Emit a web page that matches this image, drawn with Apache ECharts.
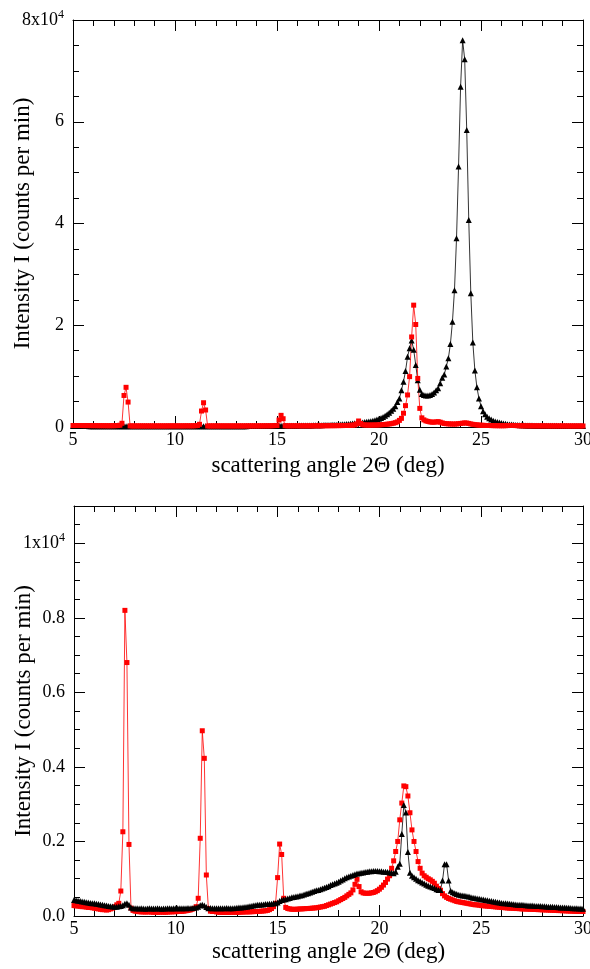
<!DOCTYPE html>
<html>
<head>
<meta charset="utf-8">
<script src="https://cdn.jsdelivr.net/npm/echarts@6/dist/echarts.min.js"></script>
<style>
  html, body { margin: 0; padding: 0; background: #fff; }
  #chart { width: 590px; height: 969px; }
</style>
</head>
<body>
<div id="chart"></div>
<script>
// Scan grid: 2Θ from 5.0° to 30.0° in 0.1° steps (251 points per scan)
const angleStart = 5.0;
const angleStep = 0.1;

// Upper panel, intensity in counts per min
const topBlack = [
  220,210,200,200,190,190,180,180,170,170,
  170,160,160,160,150,150,150,150,140,140,
  140,140,140,140,150,150,160,150,140,130,
  130,130,130,130,130,130,130,130,130,130,
  130,130,130,130,130,130,130,130,130,130,
  130,130,130,130,130,130,140,140,140,140,
  140,140,150,150,160,150,140,140,140,140,
  140,140,140,150,150,150,150,150,150,160,
  160,160,160,170,170,170,180,180,180,190,
  190,190,200,200,200,210,210,220,220,230,
  230,240,250,240,240,250,250,260,260,270,
  270,280,280,290,290,300,300,310,320,330,
  340,350,360,370,380,390,400,420,430,450,
  470,490,520,550,580,610,640,680,720,760,
  800,850,900,960,1020,1080,1150,1250,1350,1470,
  1600,1750,1950,2200,2500,2800,3200,3600,4100,4900,
  5600,7200,8900,11000,13800,15500,17000,15200,12200,9200,
  7300,6500,6300,6200,6200,6300,6500,6800,7200,7600,
  8600,9700,10300,11900,13500,16300,20700,26900,37100,51200,
  66900,76000,72300,58400,40700,26300,16600,11100,7800,5600,
  4100,3100,2500,2000,1700,1450,1250,1100,970,860,
  770,690,620,560,510,470,430,400,370,350,
  330,320,310,300,290,280,270,270,260,260,
  250,250,240,240,240,230,230,230,220,220,
  220,220,210,210,210,210,200,200,200,200,
  200
];
const topRed = [
  300,300,290,290,290,280,280,280,280,270,
  270,270,260,260,260,260,250,250,250,260,
  260,270,290,350,730,6200,7800,4900,220,210,
  210,210,210,210,210,210,210,210,210,210,
  210,210,210,210,210,210,210,220,220,220,
  220,220,220,220,220,230,230,230,230,240,
  250,300,530,3140,4770,3340,200,210,210,210,
  210,210,210,210,210,210,210,210,210,210,
  210,210,210,210,210,220,220,220,220,220,
  220,220,220,220,230,230,230,240,250,280,
  300,1370,2290,1630,250,230,230,230,230,230,
  230,230,230,230,230,230,230,230,240,240,
  240,240,240,250,250,250,260,260,260,270,
  270,280,280,290,300,310,330,350,400,600,
  1180,700,450,400,390,380,380,390,400,400,
  420,450,480,510,550,600,660,740,850,1000,
  1300,1700,2700,4200,6300,9900,17700,23950,20150,9550,
  3660,1800,1400,1200,1100,1000,950,950,1000,1050,
  950,800,700,650,620,600,580,580,600,650,
  700,750,800,780,700,600,520,460,420,380,
  350,330,310,300,290,280,270,260,260,250,
  250,250,260,280,300,310,300,280,260,250,
  240,240,230,230,230,230,220,220,220,220,
  220,220,220,210,210,210,210,210,210,210,
  210,210,210,200,200,200,200,200,200,200,
  200
];

// Lower panel, intensity in counts per min
const bottomBlack = [
  430,420,410,400,390,380,370,360,350,345,
  340,330,320,310,300,290,280,270,260,255,
  250,250,260,270,290,330,340,300,230,210,
  210,205,200,205,200,195,200,205,200,200,
  200,205,200,195,200,200,205,205,200,205,
  205,205,210,205,210,210,215,210,215,220,
  230,250,290,300,280,240,210,215,210,205,
  210,210,205,210,210,215,210,210,210,215,
  220,225,230,235,240,250,260,270,280,290,
  300,300,310,310,320,320,330,330,340,340,
  360,400,430,440,450,470,480,500,510,520,
  530,550,560,580,600,610,630,650,670,690,
  700,720,740,760,780,800,830,850,870,890,
  920,950,980,1010,1040,1060,1080,1100,1120,1140,
  1150,1160,1170,1180,1190,1200,1200,1210,1210,1210,
  1200,1200,1190,1190,1180,1170,1160,1150,1190,1320,
  1400,2200,2980,2780,1720,1160,1080,1040,1000,960,
  930,900,870,840,810,790,770,750,720,700,
  700,950,1390,1390,950,680,640,610,590,570,
  560,550,540,530,520,500,490,480,470,460,
  450,440,430,420,410,400,390,380,370,360,
  350,345,340,335,330,320,315,310,305,300,
  300,295,290,285,280,280,275,270,270,265,
  260,260,255,250,250,245,240,240,235,230,
  230,225,220,220,215,210,210,205,200,200,
  195
];
const bottomRed = [
  280,270,270,260,250,250,240,230,230,220,
  210,200,190,180,170,170,160,170,190,210,
  250,300,340,670,2260,8200,6800,1920,210,150,
  130,120,115,110,110,105,110,110,105,100,
  100,100,100,105,100,100,105,110,110,115,
  115,120,120,125,130,140,150,160,180,200,
  250,475,2085,4970,4230,1100,200,130,120,120,
  110,100,100,95,95,95,95,100,100,100,
  100,100,105,105,110,110,110,115,115,120,
  120,125,130,135,140,150,170,200,250,340,
  1030,1930,1650,475,230,200,190,180,180,180,
  185,190,190,195,200,200,205,210,215,220,
  230,240,250,260,280,300,320,340,360,380,
  410,440,470,500,540,580,620,700,850,985,
  790,650,620,610,610,610,620,630,650,680,
  720,770,830,900,990,1080,1280,1480,1730,2000,
  2580,3030,3490,3470,3220,2770,2310,2000,1730,1460,
  1280,1150,1080,1040,1000,970,930,880,800,740,
  690,600,540,500,470,450,430,410,390,380,
  370,360,350,340,330,320,310,300,300,290,
  280,275,270,265,260,255,250,245,240,235,
  230,225,220,215,210,210,205,200,200,195,
  190,190,185,185,180,180,175,175,170,170,
  165,165,160,160,155,155,150,150,145,145,
  140,140,135,135,130,130,125,125,120,120,
  120
];

// Axis tick labels
const topYLabels = { 0: '0', 20000: '2', 40000: '4', 60000: '6', 80000: '{m|8x10}{s|4}' };
const bottomYLabels = { 0: '0.0', 2000: '0.2', 4000: '0.4', 6000: '0.6', 8000: '0.8', 10000: '{m|1x10}{s|4}' };

function withAngles(values) {
  return values.map((v, i) => [+(angleStart + i * angleStep).toFixed(1), v]);
}

const FONT = 'Liberation Serif';
const labelRich = {
  m: { fontFamily: FONT, fontSize: 18, color: '#000' },
  s: { fontFamily: FONT, fontSize: 12, color: '#000', verticalAlign: 'top', padding: [0, 0, 10, 0] }
};

function xAxisDef(gridIndex, position, showLabels, nameGap) {
  return {
    type: 'value', gridIndex, position, min: 5, max: 30, interval: 5,
    name: showLabels ? 'scattering angle 2Θ (deg)' : '',
    nameLocation: 'middle', nameGap: nameGap, nameMoveOverlap: false,
    nameTextStyle: { fontFamily: FONT, fontSize: 23, color: '#000' },
    axisLine: { show: true, onZero: false, lineStyle: { color: '#000', width: 1 } },
    axisTick: { show: true, inside: true, length: 11, lineStyle: { color: '#000', width: 1 } },
    minorTick: { show: true, splitNumber: 5, length: 6, lineStyle: { color: '#000', width: 1 } },
    axisLabel: { show: showLabels, margin: 4, fontFamily: FONT, fontSize: 18, color: '#000', showMinLabel: true, showMaxLabel: true },
    splitLine: { show: false }
  };
}

function yAxisDef(gridIndex, position, max, labels, showLabels) {
  return {
    type: 'value', gridIndex, position, min: 0, max: max, interval: max === 80000 ? 20000 : 2000,
    name: showLabels ? 'Intensity I (counts per min)' : '',
    nameLocation: 'middle', nameGap: 39, nameMoveOverlap: false,
    nameTextStyle: { fontFamily: FONT, fontSize: 23, color: '#000' },
    axisLine: { show: true, onZero: false, lineStyle: { color: '#000', width: 1 } },
    axisTick: { show: true, inside: true, length: 11, lineStyle: { color: '#000', width: 1 } },
    minorTick: { show: true, splitNumber: 4, length: 6, lineStyle: { color: '#000', width: 1 } },
    axisLabel: {
      show: showLabels, margin: 9, fontFamily: FONT, fontSize: 18, color: '#000',
      formatter: v => (labels[v] !== undefined ? labels[v] : ''),
      rich: labelRich
    },
    splitLine: { show: false }
  };
}

function blackSeries(data, xi, yi) {
  return {
    type: 'line', xAxisIndex: xi, yAxisIndex: yi, data: withAngles(data),
    symbol: 'triangle', symbolSize: 6, showAllSymbol: true,
    lineStyle: { color: '#000', width: 0.8 },
    itemStyle: { color: '#000' },
    animation: false
  };
}
function redSeries(data, xi, yi) {
  return {
    type: 'line', xAxisIndex: xi, yAxisIndex: yi, data: withAngles(data),
    symbol: 'rect', symbolSize: 5, showAllSymbol: true,
    lineStyle: { color: '#ff0000', width: 0.8 },
    itemStyle: { color: '#ff0000' },
    animation: false
  };
}

const chart = echarts.init(document.getElementById('chart'), null, { renderer: 'canvas' });
chart.setOption({
  backgroundColor: '#fff',
  animation: false,
  grid: [
    { left: 73, top: 20, width: 510, height: 407, containLabel: false, outerBoundsMode: 'none' },
    { left: 74, top: 506, width: 509, height: 410, containLabel: false, outerBoundsMode: 'none' }
  ],
  xAxis: [
    xAxisDef(0, 'bottom', true, 27),
    xAxisDef(0, 'top', false, 0),
    xAxisDef(1, 'bottom', true, 24),
    xAxisDef(1, 'top', false, 0)
  ],
  yAxis: [
    yAxisDef(0, 'left', 80000, topYLabels, true),
    yAxisDef(0, 'right', 80000, topYLabels, false),
    yAxisDef(1, 'left', 11000, bottomYLabels, true),
    yAxisDef(1, 'right', 11000, bottomYLabels, false)
  ],
  series: [
    blackSeries(topBlack, 0, 0),
    redSeries(topRed, 0, 0),
    redSeries(bottomRed, 2, 2),
    blackSeries(bottomBlack, 2, 2)
  ]
});
</script>
</body>
</html>
